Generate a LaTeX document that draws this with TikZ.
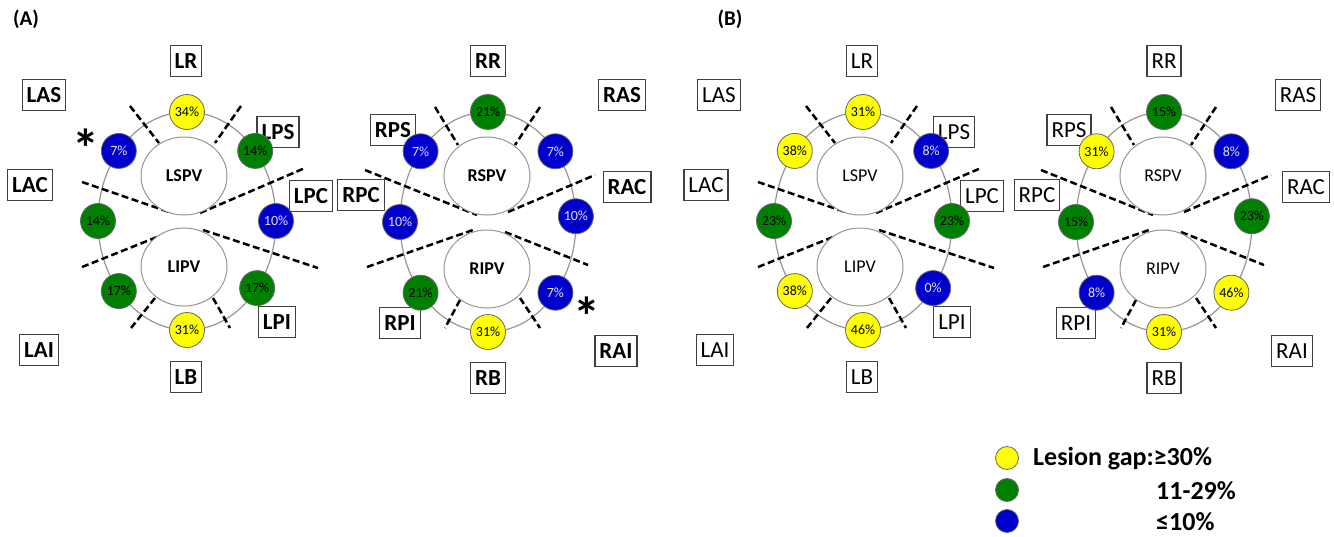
\documentclass[tikz,border=0pt]{standalone}
\usepackage{fontspec}
\setmainfont{Carlito}
\usetikzlibrary{shapes.geometric}
\definecolor{gapyellow}{RGB}{255,255,0}
\definecolor{gapgreen}{RGB}{0,128,0}
\definecolor{gapblue}{RGB}{0,0,204}
\definecolor{ringgray}{RGB}{150,150,150}
\tikzset{
  sitefont/.style={font=\fontsize{23}{27}\selectfont},
  veinfont/.style={font=\fontsize{18}{21}\selectfont},
  site/.style={draw=black!75, line width=1.2pt, inner xsep=4.5pt, inner ysep=0pt, minimum height=31pt, sitefont},
  vein/.style={ellipse, draw=ringgray, line width=1pt, fill=white, minimum width=86pt, minimum height=78pt, inner sep=0pt, veinfont},
  ring/.style={draw=ringgray, line width=1.2pt},
  cut/.style={line width=2.5pt, dash pattern=on 7pt off 3.5pt},
  gap/.style={circle, draw=black!60, line width=0.8pt, minimum size=35pt, inner sep=0pt, font=\fontsize{14}{16}\selectfont},
  hi/.style={gap, fill=gapyellow},
  mid/.style={gap, fill=gapgreen},
  lo/.style={gap, fill=gapblue, text=blue!12!white},
  asterisk/.style={font=\bfseries\fontsize{54}{54}\selectfont, inner sep=0pt},
  legend/.style={font=\bfseries\fontsize{26}{30}\selectfont, inner sep=0pt, anchor=west},
}
\begin{document}
\begin{tikzpicture}[x=1pt,y=-1pt]
\useasboundingbox (0,0) rectangle (1334,536);

\begin{scope}[sitefont/.style={font=\bfseries\fontsize{23}{27}\selectfont}, veinfont/.style={font=\bfseries\fontsize{18}{21}\selectfont}]
\node[font=\bfseries\fontsize{21}{25}\selectfont] (pa) at (26,19) {(A)};

\begin{scope}[shift={(187,221)}]
\draw[ring] (0,0) ellipse [x radius=89pt, y radius=109pt];
\foreach \xa/\ya/\xb/\yb in {-57/-115/-28/-78, 54/-115/28/-78, -105/-39/-15/-8, 13/-8/118/-53, -105/46/-20/12, 16/9/131/47, -32/77/-56/107, 26/77/43/107}
  \draw[cut] (\xa,\ya) -- (\xb,\yb);
\node[vein] (alspv) at (-3,-45) {LSPV};
\node[vein] (alipv) at (-3,46) {LIPV};
\foreach \t/\x/\y in {LR/-1/-160, LAS/-143/-126, LAC/-157/-36, LAI/-148/129, LB/-1/156, LPS/91/-89, LPC/124/-25, LPI/90/101}
  \node[site] (a\t) at (\x,\y) {\t};
\foreach \a/\v/\s [count=\i] in {90/34/hi, 40/14/mid, 0/10/lo, -38/17/mid, -90/31/hi, 220/17/mid, 180/14/mid, 140/7/lo}
  \node[\s] (al\i) at (\a:89pt and 109pt) {\v\%};
\end{scope}

\begin{scope}[shift={(488,222)}]
\draw[ring] (0,0) ellipse [x radius=88pt, y radius=110pt];
\foreach \xa/\ya/\xb/\yb in {-53/-115/-30/-77, 52/-115/27/-77, -123/-52/-11/-7, 20/-10/107/-47, -121/45/-15/8, 17/10/100/43, -28/78/-43/106, 32/76/52/106}
  \draw[cut] (\xa,\ya) -- (\xb,\yb);
\node[vein] (arspv) at (-1,-46) {RSPV};
\node[vein] (aripv) at (-1,47) {RIPV};
\foreach \t/\x/\y in {RR/0/-161, RAS/134/-127, RAC/139/-35, RAI/128/129, RB/0/156, RPS/-95/-92, RPC/-127/-27, RPI/-88/101}
  \node[site] (a\t) at (\x,\y) {\t};
\foreach \a/\v/\s [count=\i] in {90/21/mid, 40/7/lo, 3/10/lo, -40/7/lo, -90/31/hi, 220/21/mid, 180/10/lo, 140/7/lo}
  \node[\s] (ar\i) at (\a:88pt and 110pt) {\v\%};
\end{scope}

\node[asterisk] (ast1) at (86,148) {*};
\node[asterisk] (ast2) at (587,316) {*};
\end{scope}

\node[font=\bfseries\fontsize{21}{25}\selectfont] (pb) at (730,19) {(B)};

\begin{scope}[shift={(863,221)}]
\draw[ring] (0,0) ellipse [x radius=89pt, y radius=109pt];
\foreach \xa/\ya/\xb/\yb in {-57/-115/-28/-78, 54/-115/28/-78, -105/-39/-15/-8, 13/-8/118/-53, -105/46/-20/12, 16/9/131/47, -32/77/-56/107, 26/77/43/107}
  \draw[cut] (\xa,\ya) -- (\xb,\yb);
\node[vein] (blspv) at (-3,-45) {LSPV};
\node[vein] (blipv) at (-3,46) {LIPV};
\foreach \t/\x/\y in {LR/-1/-160, LAS/-144/-126, LAC/-157/-36, LAI/-148/129, LB/-1/156, LPS/91/-89, LPC/119/-25, LPI/89/101}
  \node[site] (b\t) at (\x,\y) {\t};
\foreach \a/\v/\s [count=\i] in {90/31/hi, 40/8/lo, 0/23/mid, -38/0/lo, -90/46/hi, 220/38/hi, 180/23/mid, 140/38/hi}
  \node[\s] (bl\i) at (\a:89pt and 109pt) {\v\%};
\end{scope}

\begin{scope}[shift={(1164,222)}]
\draw[ring] (0,0) ellipse [x radius=88pt, y radius=110pt];
\foreach \xa/\ya/\xb/\yb in {-53/-115/-30/-77, 52/-115/27/-77, -123/-52/-11/-7, 20/-10/107/-47, -121/45/-15/8, 17/10/100/43, -28/78/-43/106, 32/76/52/106}
  \draw[cut] (\xa,\ya) -- (\xb,\yb);
\node[vein] (brspv) at (-1,-46) {RSPV};
\node[vein] (bripv) at (-1,47) {RIPV};
\foreach \t/\x/\y in {RR/0/-161, RAS/134/-127, RAC/142/-35, RAI/128/129, RB/0/156, RPS/-95/-92, RPC/-127/-27, RPI/-88/101}
  \node[site] (b\t) at (\x,\y) {\t};
\foreach \a/\v/\s [count=\i] in {90/15/mid, 40/8/lo, 3/23/mid, -40/46/hi, -90/31/hi, 220/8/lo, 180/15/mid, 140/31/hi}
  \node[\s] (br\i) at (\a:88pt and 110pt) {\v\%};
\end{scope}

\node[hi, minimum size=23pt] (k1) at (1007,458) {};
\node[mid, minimum size=23pt] (k2) at (1007,490) {};
\node[lo, minimum size=23pt] (k3) at (1007,521) {};
\node[legend] (t1) at (1033,459) {Lesion gap:≥30\%};
\node[legend] (t2) at (1156,491) {11-29\%};
\node[legend] (t3) at (1156,522) {≤10\%};
\end{tikzpicture}
\end{document}
